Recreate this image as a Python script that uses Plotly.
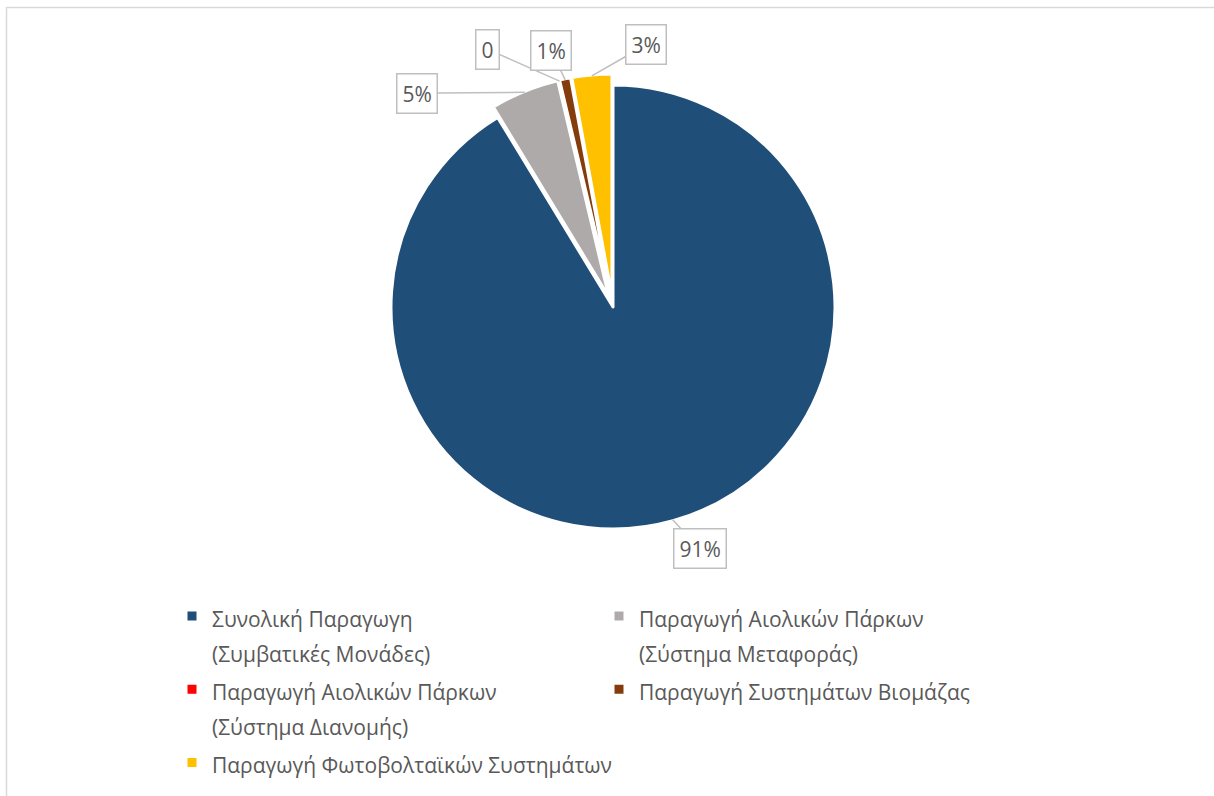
import math
import plotly.graph_objects as go

# Share of electricity production by source (%)
categories = [
    "Συνολική Παραγωγη<br>(Συμβατικές Μονάδες)",
    "Παραγωγή Αιολικών Πάρκων<br>(Σύστημα Μεταφοράς)",
    "Παραγωγή Αιολικών Πάρκων<br>(Σύστημα Διανομής)",
    "Παραγωγή Συστημάτων Βιομάζας",
    "Παραγωγή Φωτοβολταϊκών Συστημάτων",
]
values = [91.3, 5.0, 0.0, 0.8, 2.9]
value_labels = ["91%", "5%", "0", "1%", "3%"]

colors = ["#1F4E79", "#AEAAAA", "#FF0000", "#843C0C", "#FFC000"]
pulls = [0, 0.05, 0.05, 0.05, 0.05]

W, H = 1214, 796
CX, CY, R = 613, 307, 222          # pie centre / radius in pixels
MAXPULL = max(pulls)
half = R * (1 + MAXPULL)

# legend text is drawn at 21px while the legend font sets the line pitch
legend_names = ["<span style='font-size:21px'>" + c.replace("<br>", "</span><br><span style='font-size:21px'>") + "</span>"
                for c in categories]

fig = go.Figure(
    go.Pie(
        labels=legend_names,
        values=values,
        sort=False,
        direction="clockwise",
        rotation=0,
        pull=pulls,
        marker=dict(colors=colors, line=dict(color="white", width=3)),
        textinfo="none",
        hoverinfo="label+percent",
        domain=dict(
            x=[(CX - half) / W, (CX + half) / W],
            y=[1 - (CY + half) / H, 1 - (CY - half) / H],
        ),
    )
)

# callout boxes: offset of each box from the slice edge (pixels)
box_offsets = [(27, 29), (-108, 1), (-72, -32), (-14, -29), (54, -31)]

total = sum(values)
cum = 0.0
for v, txt, p, (ox, oy) in zip(values, value_labels, pulls, box_offsets):
    mid = 2 * math.pi * (cum + v / 2) / total
    cum += v
    r = R * (1 + p) - 1
    px = CX + r * math.sin(mid)
    py = CY - r * math.cos(mid)
    fig.add_annotation(
        x=px / W, y=1 - py / H, xref="paper", yref="paper",
        text=txt, showarrow=True, arrowhead=0, arrowwidth=1.5,
        arrowcolor="#BFBFBF", ax=ox, ay=oy,
        bordercolor="#BFBFBF", borderwidth=1.5, borderpad=5,
        bgcolor="white",
        font=dict(family="Open Sans", size=21, color="#595959"),
    )

# outer chart frame
fig.add_shape(
    type="rect", xref="paper", yref="paper",
    x0=6.5 / W, x1=1.02, y0=-0.02, y1=1 - 7.5 / H,
    line=dict(color="#D9D9D9", width=1.5), fillcolor="rgba(0,0,0,0)",
    layer="below",
)

fig.update_layout(
    width=W, height=H,
    margin=dict(l=0, r=0, t=0, b=0),
    paper_bgcolor="white",
    plot_bgcolor="white",
    font=dict(family="Open Sans", color="#595959"),
    showlegend=True,
    legend=dict(
        orientation="h",
        x=172 / W, xanchor="left",
        y=1 - 592 / H, yanchor="top",
        entrywidth=382, entrywidthmode="pixels",
        valign="top",
        font=dict(family="Open Sans", size=27, color="#595959"),
        traceorder="normal",
    ),
)

fig.write_html("out.html")
